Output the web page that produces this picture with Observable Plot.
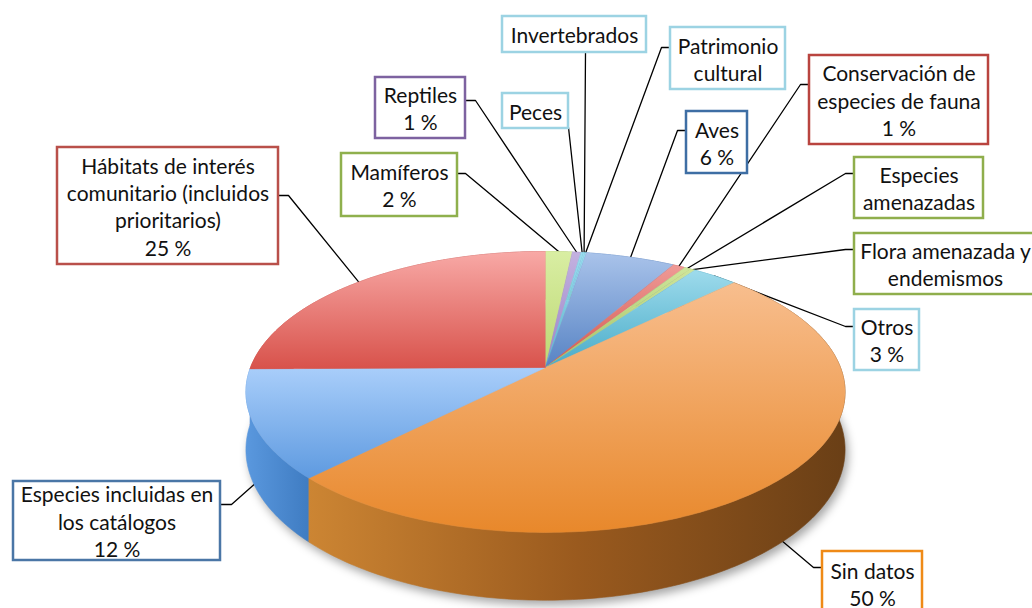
<!DOCTYPE html>
<html><head><meta charset="utf-8">
<script src="https://cdn.jsdelivr.net/npm/d3@7"></script>
<script src="https://cdn.jsdelivr.net/npm/@observablehq/plot@0.6"></script>
<style>html,body{margin:0;padding:0;background:#fff}svg{display:block}</style>
</head><body><div id="chart"></div>
<script>
// ---- data ----
const categories = [
  "Mamíferos", "Reptiles", "Peces", "Invertebrados", "Patrimonio cultural", "Aves",
  "Conservación de especies de fauna", "Especies amenazadas", "Flora amenazada y endemismos",
  "Otros", "Sin datos", "Especies incluidas en los catálogos",
  "Hábitats de interés comunitario (incluidos prioritarios)"
];
const values = [1.7, 0.55, 0.15, 0.1, 0.1, 5.7, 0.8, 0.4, 0.3, 2.9, 49.7, 12.45, 25.15];
const labelText = [
  "Mamíferos", "Reptiles", "Peces", "Invertebrados", "Patrimonio\ncultural", "Aves",
  "Conservación de\nespecies de fauna", "Especies\namenazadas", "Flora amenazada y\nendemismos",
  "Otros", "Sin datos", "Especies incluidas en\nlos catálogos",
  "Hábitats de interés\ncomunitario (incluidos\nprioritarios)"
];

// ---- styles ----
const topColors = [
  ["#d9eea3", "#bcd873"], ["#c3b1e0", "#9c85c6"], ["#9adcee", "#55b8d2"], ["#9adcee", "#55b8d2"],
  ["#9adcee", "#55b8d2"], ["#a9c3ea", "#5783c4"], ["#ef9a96", "#d2574f"], ["#cfe59a", "#a4c464"],
  ["#cfe59a", "#a4c464"], ["#9edbec", "#48abc8"], ["#f8be8e", "#e8882b"], ["#a9cefa", "#5e9ae0"],
  ["#f8a9a6", "#d8524b"]
];
const wallColors = [
  ["#a6c55c", "#8aa845"], ["#8a70b4", "#765ea0"], ["#44a6c2", "#3590aa"], ["#44a6c2", "#3590aa"],
  ["#44a6c2", "#3590aa"], ["#4a78b8", "#3e68a4"], ["#c24c46", "#a8403b"], ["#9aba58", "#86a446"],
  ["#9aba58", "#86a446"], ["#3aa0bd", "#2f87a0"], ["#cc8533", "#6a3f16"], ["#5a98de", "#3f7cc2"],
  ["#c9524b", "#b04440"]
];
const borderColors = [
  "#8fb04d", "#7d62a0", "#9cd3e3", "#9cd3e3", "#9cd3e3", "#3e6ea4", "#b9443f",
  "#8fae4c", "#8fae4c", "#9cd3e3", "#ef8a17", "#4a76a6", "#b9504a"
];

// ---- layout (label boxes, leader anchors, elbows) ----
const boxes = [
  [341, 153, 457, 216], [375, 77, 465, 138], [502, 93, 568, 128], [502, 16, 646, 52],
  [670, 27, 785, 89], [686, 111, 747, 173], [809, 55, 988, 144], [854, 157, 983, 218],
  [854, 233, 1036, 294], [854, 309, 919, 370], [822, 551, 922, 616], [13, 481, 220, 560],
  [57, 147, 278, 264]
];
const anchors = [
  [457, 173], [465, 100], [568, 127], [585, 52], [670, 47], [686, 130], [809, 84],
  [854, 173], [854, 249], [854, 326], [822, 567], [220, 504], [278, 195]
];
const elbows = [
  [465, 173], [475, 100], null, null, [661, 47], [677, 130], [800, 84],
  [845, 173], [845, 249], [845, 326], [813, 567], [231, 504], [288, 195]
];

// ---- pie geometry (perspective 3D) ----
const K = 0.174, CX = 545, CY = 367, RX = 295, RY = 136.2, H = 56;
function P(t, d) {
  const u = Math.sin(t), v = Math.cos(t), w = 1 + K * v;
  return {x: CX + RX * u / w, y: CY - RY * v / w + d * H / w};
}
function arcPts(a0, a1, d) {
  const n = Math.max(2, Math.ceil((a1 - a0) / (2 * Math.PI) * 360));
  return d3.range(n + 1).map(j => P(a0 + (a1 - a0) * j / n, d));
}
const arcs = d3.pie().sort(null).value(d => d).startAngle(0).endAngle(2 * Math.PI)(values);
const mids = arcs.map(a => (a.startAngle + a.endAngle) / 2);
const tops = arcs.map(a => [{x: CX, y: CY}, ...arcPts(a.startAngle, a.endAngle, 0)]);
const walls = arcs.map(a => [...arcPts(a.startAngle, a.endAngle, 0), ...arcPts(a.startAngle, a.endAngle, 1).reverse()]);
const wallOrder = d3.sort(d3.range(values.length), i => -Math.cos(mids[i]));
const shadow = arcPts(0, 2 * Math.PI, 1).map(p => ({x: p.x + 3, y: p.y + 5}));

const leaderRows = [];
values.forEach((v, i) => {
  const tgt = P(mids[i], Math.cos(mids[i]) < 0 ? 1 : 0);
  leaderRows.push({k: i, x: anchors[i][0], y: anchors[i][1]});
  if (elbows[i]) leaderRows.push({k: i, x: elbows[i][0], y: elbows[i][1]});
  leaderRows.push({k: i, x: tgt.x, y: tgt.y});
});

const labelRows = values.map((v, i) => {
  const r = Math.round(v);
  return {
    x1: boxes[i][0], y1: boxes[i][1], x2: boxes[i][2], y2: boxes[i][3],
    cx: (boxes[i][0] + boxes[i][2]) / 2, cy: (boxes[i][1] + boxes[i][3]) / 2,
    border: borderColors[i],
    text: labelText[i] + (r >= 1 ? "\n" + r + " %" : "")
  };
});

const svg = Plot.plot({
  width: 1032, height: 608, margin: 0,
  x: {domain: [0, 1032], range: [0, 1032], axis: null},
  y: {domain: [0, 608], range: [0, 608], axis: null},
  color: {type: "identity"},
  style: {background: "#fff"},
  marks: [
    Plot.line(shadow, {x: "x", y: "y", fill: "#000", fillOpacity: 0.35, stroke: "none", ariaDescription: "pieshadow"}),
    Plot.line(leaderRows, {x: "x", y: "y", z: "k", stroke: "#000", strokeWidth: 1.3}),
    ...wallOrder.map(i => Plot.line(walls[i], {x: "x", y: "y", fill: `url(#gw${i})`, stroke: `url(#gw${i})`, strokeWidth: 0.6})),
    ...tops.map((t, i) => Plot.line(t, {x: "x", y: "y", fill: `url(#gt${i})`, stroke: `url(#gt${i})`, strokeWidth: 0.6})),
    Plot.rect(labelRows, {x1: "x1", y1: "y1", x2: "x2", y2: "y2", fill: "#fff", stroke: "border", strokeWidth: 2.5}),
    Plot.text(labelRows, {x: "cx", y: "cy", text: "text", fontFamily: "Lato, 'Liberation Sans', sans-serif", fontSize: 21, lineHeight: 1.3, fill: "#111"})
  ]
});

// gradient + filter definitions
const NS = "http://www.w3.org/2000/svg";
const defs = document.createElementNS(NS, "defs");
function addGrad(id, stops, horiz) {
  const g = document.createElementNS(NS, "linearGradient");
  g.setAttribute("id", id);
  g.setAttribute("x1", "0"); g.setAttribute("y1", "0");
  g.setAttribute("x2", horiz ? "1" : "0"); g.setAttribute("y2", horiz ? "0" : "1");
  stops.forEach(([o, c]) => {
    const s = document.createElementNS(NS, "stop");
    s.setAttribute("offset", o); s.setAttribute("stop-color", c);
    g.appendChild(s);
  });
  defs.appendChild(g);
}
topColors.forEach((c, i) => addGrad(`gt${i}`, [[0, c[0]], [1, c[1]]], false));
wallColors.forEach((c, i) => {
  if (i === 10) addGrad(`gw${i}`, [[0, "#cc8533"], [0.5, "#9a5a1e"], [1, "#6a3f16"]], true);
  else addGrad(`gw${i}`, [[0, c[0]], [1, c[1]]], true);
});
const f = document.createElementNS(NS, "filter");
f.setAttribute("id", "pieBlur");
f.setAttribute("x", "-10%"); f.setAttribute("y", "-10%");
f.setAttribute("width", "120%"); f.setAttribute("height", "120%");
const fb = document.createElementNS(NS, "feGaussianBlur");
fb.setAttribute("stdDeviation", "5");
f.appendChild(fb);
defs.appendChild(f);
svg.insertBefore(defs, svg.firstChild);
const sh = svg.querySelector('[aria-description="pieshadow"]') || svg.querySelector('g[aria-label="line"]');
if (sh) sh.setAttribute("filter", "url(#pieBlur)");

document.getElementById("chart").appendChild(svg);
</script>
</body></html>
